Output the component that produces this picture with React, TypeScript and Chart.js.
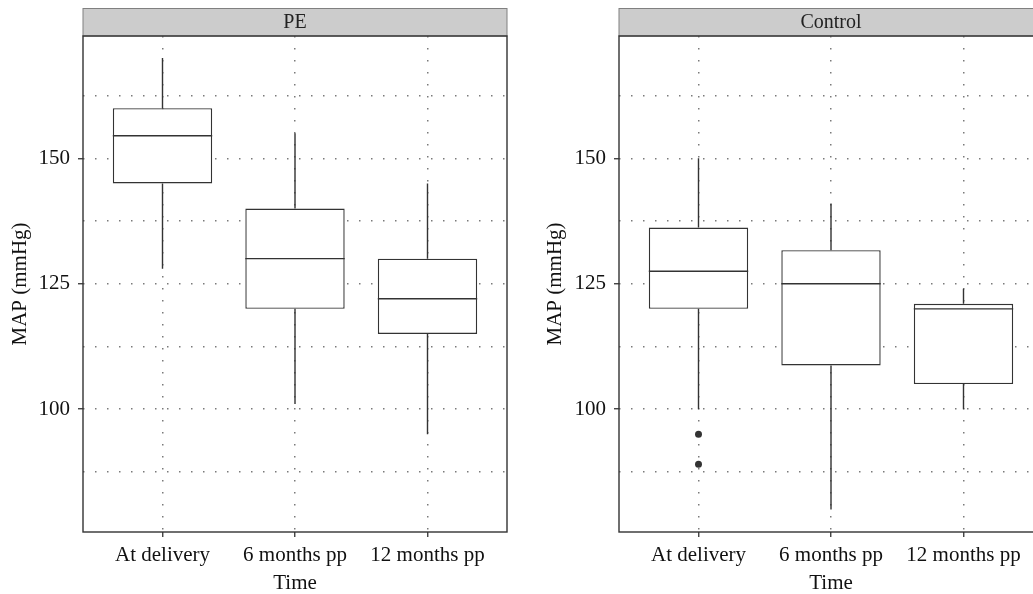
import React, { useEffect, useRef } from 'react';
import { Chart, registerables } from 'chart.js';

Chart.register(...registerables);

const categories = ['At delivery', '6 months pp', '12 months pp'];
const yTickValues = [87.5, 100, 112.5, 125, 137.5, 150, 162.5];
const xTickValues = [0, 1, 2];

// PE group
const peMin = [128, 101, 95];
const peQ1 = [145, 120, 115];
const peMedian = [154.5, 130, 122];
const peQ3 = [160, 140, 130];
const peMax = [170, 155, 145];
const peOutliers: { x: number; y: number }[] = [];

// Control group
const ctrlMin = [100, 80, 100];
const ctrlQ1 = [120, 108.7, 105];
const ctrlMedian = [127.5, 125, 120];
const ctrlQ3 = [136.2, 131.7, 121];
const ctrlMax = [150, 141, 124];
const ctrlOutlierX = [0, 0];
const ctrlOutlierY = [95, 89];

const FONT = "'Liberation Serif', 'Times New Roman', serif";
const LINE = '#333333';
const GRID = '#7a7a7a';
const TEXT = '#111111';

const boxPlugin = {
  id: 'boxExtras',
  afterDatasetsDraw(chart: any, _args: any, opts: any) {
    const { ctx } = chart;
    const y = chart.scales.y;
    const meta = chart.getDatasetMeta(0);
    ctx.save();
    ctx.strokeStyle = LINE;
    ctx.lineWidth = 1.4;
    meta.data.forEach((bar: any, i: number) => {
      const { x, width } = bar.getProps(['x', 'width'], true);
      const yMin = y.getPixelForValue(opts.min[i]);
      const yMax = y.getPixelForValue(opts.max[i]);
      const yQ1 = y.getPixelForValue(opts.q1[i]);
      const yQ3 = y.getPixelForValue(opts.q3[i]);
      const yMed = y.getPixelForValue(opts.median[i]);
      ctx.beginPath();
      ctx.moveTo(x, yQ3);
      ctx.lineTo(x, yMax);
      ctx.moveTo(x, yQ1);
      ctx.lineTo(x, yMin);
      ctx.moveTo(x - width / 2, yMed);
      ctx.lineTo(x + width / 2, yMed);
      ctx.stroke();
    });
    ctx.restore();
  },
  afterDraw(chart: any, _args: any, opts: any) {
    const { ctx, chartArea } = chart;
    const { left, right, top, bottom } = chartArea;
    ctx.save();
    // strip
    ctx.fillStyle = '#cccccc';
    ctx.fillRect(left, 8, right - left, top - 8);
    ctx.strokeStyle = '#808080';
    ctx.lineWidth = 1;
    ctx.strokeRect(left, 8.5, right - left, top - 8.5);
    ctx.fillStyle = '#222222';
    ctx.font = `20px ${FONT}`;
    ctx.textAlign = 'center';
    ctx.textBaseline = 'middle';
    ctx.fillText(opts.strip, (left + right) / 2, (8 + top) / 2 + 1);
    // frame
    ctx.strokeStyle = '#333333';
    ctx.lineWidth = 1.4;
    ctx.strokeRect(left, top, right - left, bottom - top);
    ctx.restore();
  },
};

function makeChart(
  canvas: HTMLCanvasElement,
  p: {
    strip: string;
    min: number[];
    q1: number[];
    median: number[];
    q3: number[];
    max: number[];
    outliers: { x: number; y: number }[];
    padLeft: number;
    padRight: number;
    yWidth: number;
  }
) {
  return new Chart(canvas, {
    type: 'bar',
    data: {
      datasets: [
        {
          type: 'bar',
          data: categories.map((_, i) => ({ x: i, y: [p.q1[i], p.q3[i]] })) as any,
          backgroundColor: '#ffffff',
          borderColor: LINE,
          borderWidth: 1.4,
          borderSkipped: false,
          barPercentage: 0.75,
          categoryPercentage: 1,
        } as any,
        {
          type: 'scatter',
          data: p.outliers as any,
          pointRadius: 3.5,
          pointBackgroundColor: '#333333',
          pointBorderWidth: 0,
          pointHoverRadius: 3.5,
        } as any,
      ],
    },
    options: {
      responsive: false,
      animation: false,
      events: [],
      layout: { padding: { left: p.padLeft, right: p.padRight, top: 36, bottom: 0 } },
      plugins: {
        legend: { display: false },
        tooltip: { enabled: false },
        boxExtras: {
          strip: p.strip,
          min: p.min,
          q1: p.q1,
          median: p.median,
          q3: p.q3,
          max: p.max,
        },
      } as any,
      scales: {
        x: {
          type: 'linear',
          min: -0.6,
          max: 2.6,
          offset: false,
          afterBuildTicks: (s: any) => {
            s.ticks = xTickValues.map((v) => ({ value: v }));
          },
          afterFit: (s: any) => {
            s.height = 62;
          },
          ticks: {
            autoSkip: false,
            maxRotation: 0,
            padding: 6,
            color: TEXT,
            font: { family: FONT, size: 21 },
            callback: (v: any) => categories[v as number] ?? '',
          },
          grid: {
            offset: false,
            color: GRID,
            lineWidth: 1.5,
            tickColor: '#333333',
            tickWidth: 1.3,
            tickLength: 5,
            drawTicks: true,
          },
          border: { display: false, dash: [1.5, 10.5] },
          title: {
            display: true,
            text: 'Time',
            color: TEXT,
            font: { family: FONT, size: 21, lineHeight: 1 },
            padding: { top: 0, bottom: 0 },
          },
        },
        y: {
          type: 'linear',
          min: 75.5,
          max: 174.4,
          afterBuildTicks: (s: any) => {
            s.ticks = yTickValues.map((v) => ({ value: v }));
          },
          afterFit: (s: any) => {
            s.width = p.yWidth;
          },
          ticks: {
            autoSkip: false,
            padding: 8,
            color: TEXT,
            font: { family: FONT, size: 21 },
            callback: (v: any) => ((v as number) % 25 === 0 ? String(v) : ''),
          },
          grid: {
            color: GRID,
            lineWidth: 1.5,
            tickColor: (c: any) => (c.tick && c.tick.value % 25 === 0 ? '#333333' : 'rgba(0,0,0,0)'),
            tickWidth: 1.3,
            tickLength: 5,
            drawTicks: true,
          },
          border: { display: false, dash: [1.5, 10.5] },
          title: {
            display: true,
            text: 'MAP (mmHg)',
            color: TEXT,
            font: { family: FONT, size: 21 },
            padding: { top: 8, bottom: 0 },
          },
        },
      },
    } as any,
    plugins: [boxPlugin as any],
  });
}

export default function App() {
  const leftRef = useRef<HTMLCanvasElement>(null);
  const rightRef = useRef<HTMLCanvasElement>(null);

  useEffect(() => {
    document.body.style.margin = '0';
    const left = makeChart(leftRef.current!, {
      strip: 'PE',
      min: peMin,
      q1: peQ1,
      median: peMedian,
      q3: peQ3,
      max: peMax,
      outliers: peOutliers,
      padLeft: 0,
      padRight: 9,
      yWidth: 83,
    });
    const right = makeChart(rightRef.current!, {
      strip: 'Control',
      min: ctrlMin,
      q1: ctrlQ1,
      median: ctrlMedian,
      q3: ctrlQ3,
      max: ctrlMax,
      outliers: ctrlOutlierX.map((x, i) => ({ x, y: ctrlOutlierY[i] })),
      padLeft: 19,
      padRight: 13,
      yWidth: 84,
    });
    return () => {
      left.destroy();
      right.destroy();
    };
  }, []);

  return (
    <div
      style={{
        position: 'fixed',
        left: 0,
        top: 0,
        width: 1033,
        height: 594,
        overflow: 'hidden',
        background: '#ffffff',
      }}
    >
      <canvas
        ref={leftRef}
        width={516}
        height={594}
        style={{ position: 'absolute', left: 0, top: 0, width: 516, height: 594 }}
      />
      <canvas
        ref={rightRef}
        width={540}
        height={594}
        style={{ position: 'absolute', left: 516, top: 0, width: 540, height: 594 }}
      />
    </div>
  );
}
